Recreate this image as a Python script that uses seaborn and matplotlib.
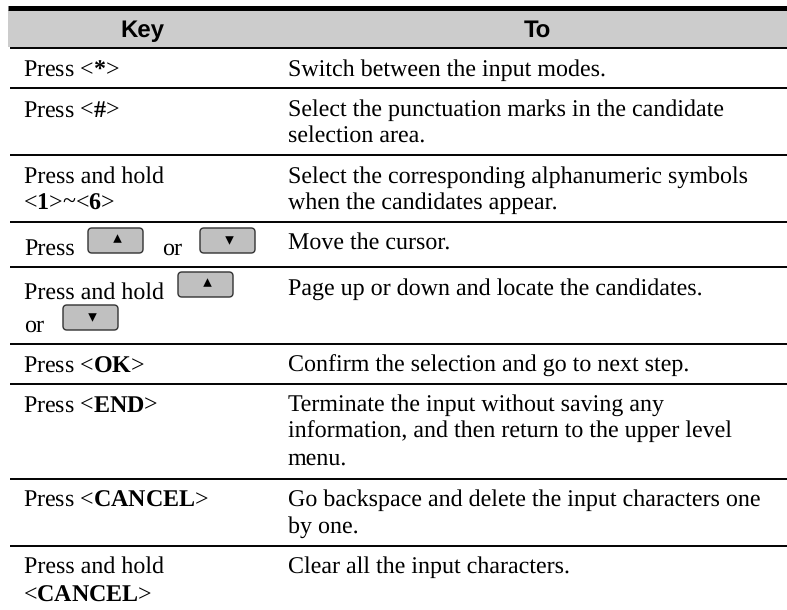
import matplotlib
matplotlib.use('Agg')
import matplotlib.pyplot as plt
from matplotlib.patches import FancyBboxPatch
import pandas as pd
import seaborn as sns

sns.set_theme(style='white')
plt.rcParams['font.family'] = ['Liberation Serif', 'DejaVu Serif']
plt.rcParams['mathtext.fontset'] = 'custom'
plt.rcParams['mathtext.rm'] = 'Liberation Serif'
plt.rcParams['mathtext.bf'] = 'Liberation Serif:bold'
plt.rcParams['text.hinting'] = 'no_hinting'
plt.rcParams['text.hinting_factor'] = 1

# table content
headers = ['Key', 'To']
key_lines = [
    ['Press <$\\mathbf{*}$>'],
    ['Press <$\\mathbf{\\#}$>'],
    ['Press and hold', '<$\\mathbf{1}$>~<$\\mathbf{6}$>'],
    ['Press'],
    ['Press and hold', 'or'],
    ['Press <$\\mathbf{OK}$>'],
    ['Press <$\\mathbf{END}$>'],
    ['Press <$\\mathbf{CANCEL}$>'],
    ['Press and hold', '<$\\mathbf{CANCEL}$>'],
]
to_lines = [
    ['Switch between the input modes.'],
    ['Select the punctuation marks in the candidate', 'selection area.'],
    ['Select the corresponding alphanumeric symbols', 'when the candidates appear.'],
    ['Move the cursor.'],
    ['Page up or down and locate the candidates.'],
    ['Confirm the selection and go to next step.'],
    ['Terminate the input without saving any', 'information, and then return to the upper level', 'menu.'],
    ['Go backspace and delete the input characters one', 'by one.'],
    ['Clear all the input characters.'],
]

# layout, in pixels of the 787x610 picture
W, H = 787, 610
rule_y = [48, 88, 155, 222, 267, 344, 384, 479, 546]
key_base = [[76], [116], [183, 209], [255], [299, 332], [372], [411], [506], [573, 601]]
to_base = [[76], [116, 143], [183, 209], [250], [295], [372], [411, 438, 465], [506, 533], [573]]
buttons = pd.DataFrame({
    'x': [88, 200, 178, 63],
    'y': [228, 228, 272, 305],
    'dir': ['up', 'down', 'up', 'down'],
})
BTN_W, BTN_H = 55, 25
BODY = 17.2

fig = plt.figure(figsize=(W / 100, H / 100), dpi=100)
ax = fig.add_axes([0, 0, 1, 1])
ax.set_xlim(0, W)
ax.set_ylim(H, 0)
ax.axis('off')
sns.despine(ax=ax, left=True, bottom=True)

# header band and rules
ax.fill_between([8, W], 10, 47, color='#cccccc', lw=0)
ax.plot([8, W], [7.5, 7.5], color='black', lw=3.6, solid_capstyle='butt')
for y in rule_y:
    ax.plot([10, W], [y, y], color='black', lw=1.4, solid_capstyle='butt')

for x, label in zip([142, 537], headers):
    ax.text(x, 37, label, ha='center', va='baseline', fontsize=17.5,
            fontweight='bold', family='Liberation Sans', color='black')

# mathtext lines land about a pixel up and to the right of plain ones
for lines, bases in zip(key_lines, key_base):
    for line, y in zip(lines, bases):
        nudge = 1 if '$' in line else 0
        ax.text(24 - nudge, y + nudge, line, fontsize=BODY, va='baseline', color='black')
for lines, bases in zip(to_lines, to_base):
    for line, y in zip(lines, bases):
        ax.text(288, y, line, fontsize=BODY, va='baseline', color='black')
ax.text(162, 255, 'or', fontsize=BODY, va='baseline', color='black')

# arrow keys
for _, b in buttons.iterrows():
    ax.add_patch(FancyBboxPatch((b.x + 3, b.y + 3), BTN_W - 6, BTN_H - 6,
                                boxstyle='round,pad=3,rounding_size=4',
                                fc='#c0c0c0', ec='#333333', lw=1.0))
tri = buttons.assign(cx=buttons.x + BTN_W / 2 + 2,
                     cy=buttons.y + BTN_H / 2 + buttons['dir'].map({'up': -2, 'down': 0}))
sns.scatterplot(data=tri, x='cx', y='cy', style='dir', markers={'up': '^', 'down': 'v'},
                color='black', s=38, linewidth=0, legend=False, ax=ax, zorder=3)
ax.set_xlim(0, W)
ax.set_ylim(H, 0)
ax.axis('off')

fig.savefig('out.png', dpi=100)
